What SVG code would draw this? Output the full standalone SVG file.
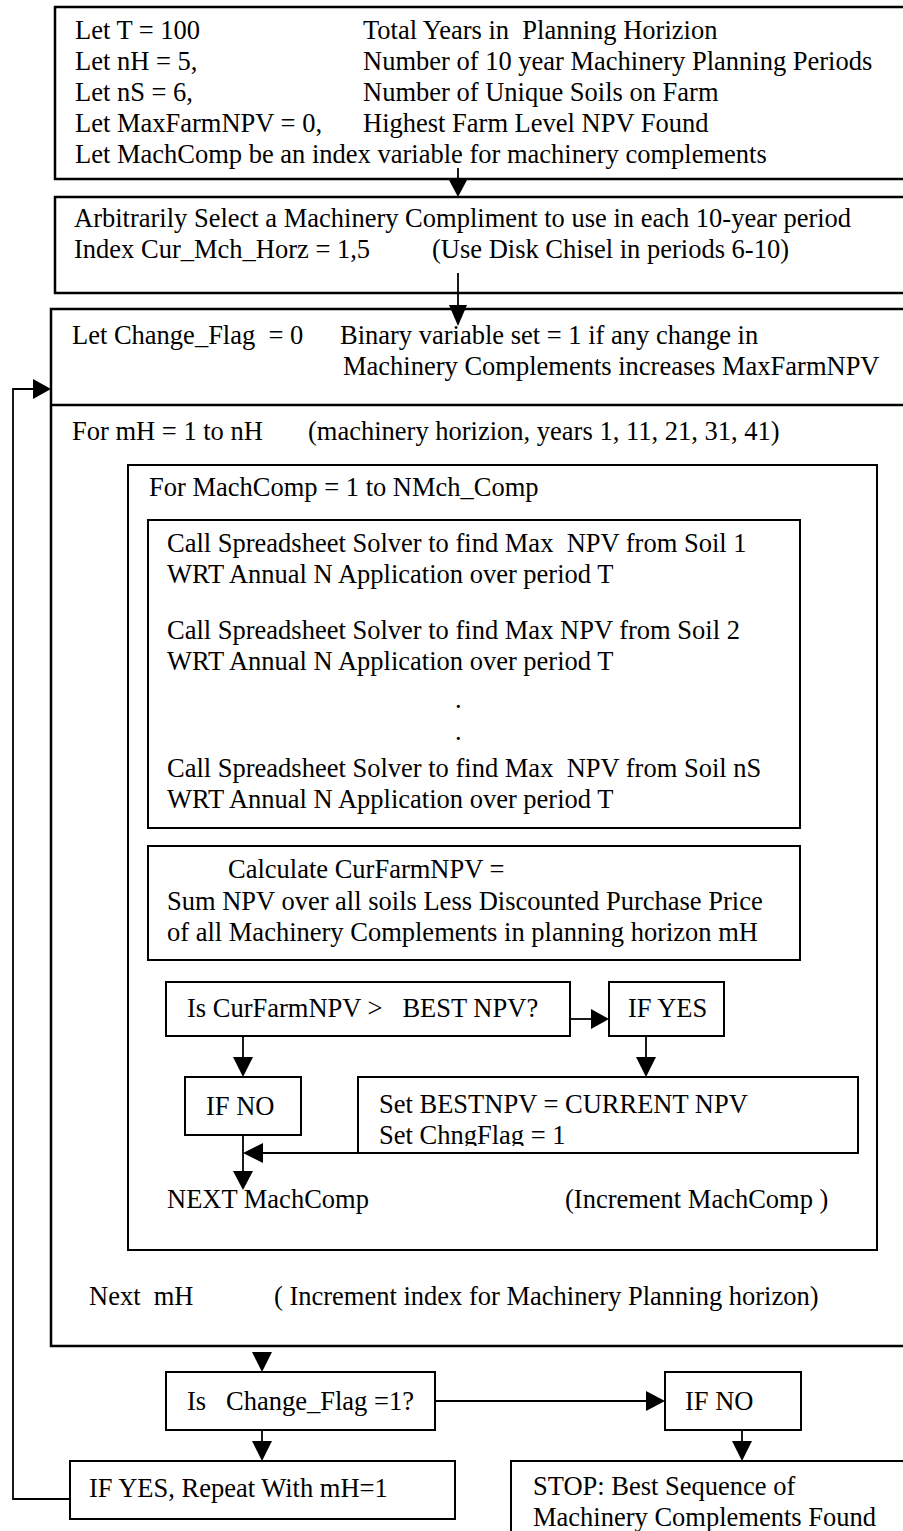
<svg xmlns="http://www.w3.org/2000/svg" width="903" height="1531" viewBox="0 0 903 1531">
<style>
text{font-family:"Liberation Serif","Times New Roman",serif;font-size:26.5px;fill:#000;white-space:pre}
.box{fill:#fff;stroke:#000;stroke-width:2}
.big{stroke-width:2.5}
.ln{fill:none;stroke:#000;stroke-width:1.8}
.ah{fill:#000;stroke:none}
</style>
<defs>
<clipPath id="clipSet"><rect x="358" y="1077" width="500" height="69"/></clipPath>
</defs>
<g id="init">
<rect class="box big" x="55" y="7" width="870" height="172"/>
<text x="75" y="39">Let T = 100</text><text x="363" y="39">Total Years in  Planning Horizion</text>
<text x="75" y="70">Let nH = 5,</text><text x="363" y="70">Number of 10 year Machinery Planning Periods</text>
<text x="75" y="101">Let nS = 6,</text><text x="363" y="101">Number of Unique Soils on Farm</text>
<text x="75" y="132">Let MaxFarmNPV = 0,</text><text x="363" y="132">Highest Farm Level NPV Found</text>
<text x="75" y="163">Let MachComp be an index variable for machinery complements</text>
</g>
<g id="select">
<rect class="box big" x="55" y="197" width="870" height="96"/>
<text x="74" y="227">Arbitrarily Select a Machinery Compliment to use in each 10-year period</text>
<text x="74" y="258">Index Cur_Mch_Horz = 1,5</text><text x="432" y="258">(Use Disk Chisel in periods 6-10)</text>
</g>
<g id="outer">
<rect class="box big" x="51" y="309" width="880" height="1037"/>
<line class="ln" x1="51" y1="405" x2="903" y2="405" style="stroke-width:2.5"/>
<text x="72" y="344">Let Change_Flag  = 0</text><text x="340" y="344">Binary variable set = 1 if any change in</text>
<text x="343" y="375">Machinery Complements increases MaxFarmNPV</text>
<text x="72" y="440">For mH = 1 to nH</text><text x="308" y="440">(machinery horizion, years 1, 11, 21, 31, 41)</text>
<text x="89" y="1305">Next  mH</text><text x="274" y="1305">( Increment index for Machinery Planning horizon)</text>
</g>
<g id="machcomp">
<rect class="box" x="128" y="465" width="749" height="785"/>
<text x="149" y="496">For MachComp = 1 to NMch_Comp</text>
<text x="167" y="1208">NEXT MachComp</text><text x="565" y="1208">(Increment MachComp )</text>
</g>
<g id="solver">
<rect class="box" x="148" y="520" width="652" height="308"/>
<text x="167" y="552">Call Spreadsheet Solver to find Max  NPV from Soil 1</text>
<text x="167" y="583">WRT Annual N Application over period T</text>
<text x="167" y="639">Call Spreadsheet Solver to find Max NPV from Soil 2</text>
<text x="167" y="670">WRT Annual N Application over period T</text>
<text x="455" y="708">.</text>
<text x="455" y="740">.</text>
<text x="167" y="777">Call Spreadsheet Solver to find Max  NPV from Soil nS</text>
<text x="167" y="808">WRT Annual N Application over period T</text>
</g>
<g id="calc">
<rect class="box" x="148" y="846" width="652" height="114"/>
<text x="228" y="878">Calculate CurFarmNPV =</text>
<text x="167" y="910">Sum NPV over all soils Less Discounted Purchase Price</text>
<text x="167" y="941">of all Machinery Complements in planning horizon mH</text>
</g>
<g id="decision1">
<rect class="box" x="166" y="982" width="404" height="54"/>
<text x="187" y="1017">Is CurFarmNPV &gt;   BEST NPV?</text>
</g>
<g id="ifyes1">
<rect class="box" x="609" y="982" width="115" height="54"/>
<text x="628" y="1017">IF YES</text>
</g>
<g id="ifno1">
<rect class="box" x="185" y="1077" width="116" height="58"/>
<text x="206" y="1115">IF NO</text>
</g>
<g id="setbest">
<rect class="box" x="358" y="1077" width="500" height="76"/>
<g clip-path="url(#clipSet)">
<text x="379" y="1113">Set BESTNPV = CURRENT NPV</text>
<text x="379" y="1144">Set ChngFlag = 1</text>
</g>
</g>
<g id="decision2">
<rect class="box" x="166" y="1372" width="269" height="58"/>
<text x="187" y="1410">Is   Change_Flag =1?</text>
</g>
<g id="ifno2">
<rect class="box" x="665" y="1372" width="136" height="58"/>
<text x="685" y="1410">IF NO</text>
</g>
<g id="ifyes2">
<rect class="box" x="70" y="1461" width="385" height="58"/>
<text x="89" y="1497">IF YES, Repeat With mH=1</text>
</g>
<g id="stop">
<rect class="box" x="511" y="1461" width="420" height="90"/>
<text x="533" y="1495">STOP: Best Sequence of</text>
<text x="533" y="1526">Machinery Complements Found</text>
</g>
<g id="connectors">
<line class="ln" x1="458" y1="168" x2="458" y2="181"/>
<polygon class="ah" points="449,180 467,180 458,197"/>
<line class="ln" x1="458" y1="273" x2="458" y2="306"/>
<polygon class="ah" points="449,305 467,305 458,326"/>
<polyline class="ln" points="70,1499 13,1499 13,389 34,389"/>
<polygon class="ah" points="33,379 33,399 51,389"/>
<line class="ln" x1="570" y1="1019" x2="592" y2="1019"/>
<polygon class="ah" points="591,1009 591,1029 609,1019"/>
<line class="ln" x1="243" y1="1036" x2="243" y2="1058"/>
<polygon class="ah" points="233,1057 253,1057 243,1077"/>
<line class="ln" x1="646" y1="1036" x2="646" y2="1058"/>
<polygon class="ah" points="636,1057 656,1057 646,1077"/>
<line class="ln" x1="243" y1="1135" x2="243" y2="1172"/>
<polygon class="ah" points="233,1171 253,1171 243,1190"/>
<line class="ln" x1="358" y1="1153" x2="262" y2="1153"/>
<polygon class="ah" points="263,1143 263,1163 243,1153"/>
<polygon class="ah" points="252,1352 272,1352 262,1372"/>
<line class="ln" x1="262" y1="1430" x2="262" y2="1442"/>
<polygon class="ah" points="252,1441 272,1441 262,1461"/>
<line class="ln" x1="435" y1="1401" x2="647" y2="1401"/>
<polygon class="ah" points="646,1391 646,1411 665,1401"/>
<line class="ln" x1="742" y1="1430" x2="742" y2="1442"/>
<polygon class="ah" points="732,1441 752,1441 742,1461"/>
</g>
</svg>
